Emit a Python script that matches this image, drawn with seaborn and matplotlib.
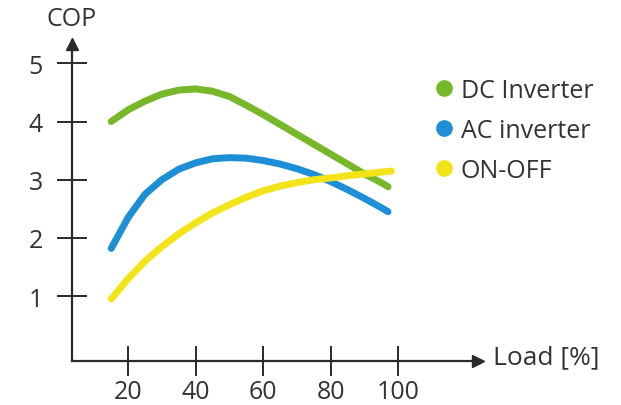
import numpy as np
import pandas as pd
import matplotlib
matplotlib.use("Agg")
import matplotlib.pyplot as plt
import seaborn as sns
from matplotlib.lines import Line2D

# --- data ---
load_dc = [15, 20, 25, 30, 35, 40, 45, 50, 55, 60, 65, 70, 75, 80, 85, 90, 95, 97]
cop_dc = [4.0, 4.2, 4.35, 4.47, 4.54, 4.56, 4.52, 4.43, 4.28, 4.12, 3.95, 3.78, 3.61, 3.44, 3.27, 3.1, 2.95, 2.88]

load_ac = [15, 20, 25, 30, 35, 40, 45, 50, 55, 60, 65, 70, 75, 80, 85, 90, 95, 97]
cop_ac = [1.82, 2.35, 2.75, 3.0, 3.18, 3.29, 3.36, 3.38, 3.37, 3.33, 3.27, 3.19, 3.09, 2.97, 2.83, 2.68, 2.52, 2.45]

load_onoff = [15, 20, 25, 30, 35, 40, 45, 50, 55, 60, 65, 70, 75, 80, 85, 90, 95, 98]
cop_onoff = [0.95, 1.3, 1.6, 1.85, 2.07, 2.26, 2.43, 2.57, 2.7, 2.81, 2.89, 2.95, 3.0, 3.03, 3.07, 3.1, 3.13, 3.15]

series = ["DC Inverter", "AC inverter", "ON-OFF"]
colors = ["#76b82a", "#1c8fd6", "#f2e418"]
x_ticks = [20, 40, 60, 80, 100]
y_ticks = [1, 2, 3, 4, 5]

df = pd.concat([
    pd.DataFrame({"load": load_dc, "cop": cop_dc, "type": series[0]}),
    pd.DataFrame({"load": load_ac, "cop": cop_ac, "type": series[1]}),
    pd.DataFrame({"load": load_onoff, "cop": cop_onoff, "type": series[2]}),
])

sns.set_style("white")
plt.rcParams['font.family'] = ['Open Sans', 'DejaVu Sans']
text_col = "#333333"
axis_col = "#2a2a2a"

fig = plt.figure(figsize=(6.21, 4.06), dpi=100)
ax = fig.add_axes([0.116, 0.108, 0.654, 0.781])

sns.lineplot(data=df, x="load", y="cop", hue="type", hue_order=series,
             palette=colors, linewidth=5, legend=False, ax=ax,
             solid_capstyle="round", solid_joinstyle="round")

ax.set_xlim(3.4, 123.7)
ax.set_ylim(-0.116, 5.33)

# axes with arrows
for s in ["top", "right"]:
    ax.spines[s].set_visible(False)
for s in ["left", "bottom"]:
    ax.spines[s].set_color(axis_col)
    ax.spines[s].set_linewidth(1.6)
ax.plot(0, 1, "^", color=axis_col, markersize=8, transform=ax.transAxes, clip_on=False)
ax.plot(1, 0, ">", color=axis_col, markersize=8, transform=ax.transAxes, clip_on=False)

ax.set_xticks(x_ticks)
ax.set_yticks(y_ticks)
ax.tick_params(axis="both", bottom=True, left=True, direction="inout", length=22,
               width=1.4, color=axis_col, labelcolor=text_col, labelsize=18)
ax.tick_params(axis="x", pad=2)
ax.tick_params(axis="y", pad=10)
ax.set_xlabel("")
ax.set_ylabel("")

fig.text(47 / 621, 1 - 20 / 406, "COP", fontsize=18, color=text_col, va="center", ha="left")
fig.text(493 / 621, 1 - 358 / 406, "Load [%]", fontsize=19, color=text_col, va="center", ha="left")

handles = [Line2D([], [], marker="o", linestyle="", color=c, markersize=11) for c in colors]
leg = fig.legend(handles, series, loc="upper left", bbox_to_anchor=(406 / 621, 1 - 56 / 406),
                 frameon=False, fontsize=18, handletextpad=0.1, labelspacing=0.6,
                 handlelength=1.2)
for t in leg.get_texts():
    t.set_color(text_col)

fig.savefig("out.png", dpi=100)
